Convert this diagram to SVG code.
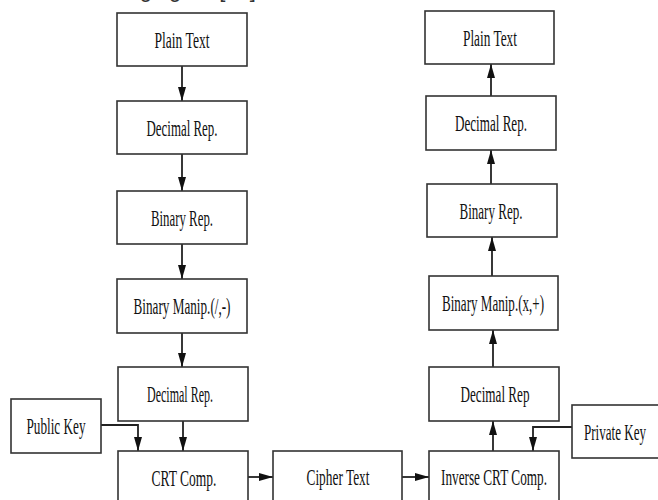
<svg xmlns="http://www.w3.org/2000/svg" width="658" height="500" viewBox="0 0 658 500">
<defs>
<style>
.box{fill:#fff;stroke:#333;stroke-width:1.6}
.t{font-family:"Liberation Serif","Times New Roman",serif;font-size:24px;fill:#111;text-anchor:middle}
.c{fill:none;stroke:#222;stroke-width:1.8}
.cap{font-family:"Liberation Sans",Arial,sans-serif;font-size:22px;fill:#333}
</style>
<marker id="ah" markerUnits="userSpaceOnUse" markerWidth="15" markerHeight="8" refX="14" refY="4" orient="auto">
<path d="M0,0 L14,4 L0,8 z" fill="#111"/>
</marker>
</defs>
<rect width="658" height="500" fill="#fff"/>
<text class="cap" x="262" y="-3" text-anchor="end">the following figure [15].</text>
<g id="connectors">
<line class="c" x1="182" y1="66" x2="182" y2="101" marker-end="url(#ah)"/>
<line class="c" x1="182" y1="154" x2="182" y2="191" marker-end="url(#ah)"/>
<line class="c" x1="182" y1="244" x2="182" y2="279" marker-end="url(#ah)"/>
<line class="c" x1="182" y1="333" x2="182" y2="367" marker-end="url(#ah)"/>
<line class="c" x1="183" y1="421" x2="183" y2="451" marker-end="url(#ah)"/>
<polyline class="c" points="101,425 138,425 138,451" marker-end="url(#ah)"/>
<line class="c" x1="248" y1="477" x2="273" y2="477" stroke-width="2.5" marker-end="url(#ah)"/>
<line class="c" x1="402" y1="477" x2="429" y2="477" stroke-width="2.5" marker-end="url(#ah)"/>
<polyline class="c" points="572,427 533,427 533,451" marker-end="url(#ah)"/>
<line class="c" x1="493" y1="451" x2="493" y2="421" marker-end="url(#ah)"/>
<line class="c" x1="493" y1="367" x2="493" y2="330" marker-end="url(#ah)"/>
<line class="c" x1="492" y1="276" x2="492" y2="237" marker-end="url(#ah)"/>
<line class="c" x1="491" y1="184" x2="491" y2="150" marker-end="url(#ah)"/>
<line class="c" x1="491" y1="96" x2="491" y2="64" marker-end="url(#ah)"/>
</g>
<g id="n1"><rect class="box" x="117" y="13" width="130" height="53"/><text class="t" x="182" y="48" textLength="55" lengthAdjust="spacingAndGlyphs">Plain Text</text></g>
<g id="n2"><rect class="box" x="117" y="101" width="130" height="53"/><text class="t" x="182" y="136" textLength="71" lengthAdjust="spacingAndGlyphs">Decimal Rep.</text></g>
<g id="n3"><rect class="box" x="117" y="191" width="130" height="53"/><text class="t" x="182" y="226" textLength="62" lengthAdjust="spacingAndGlyphs">Binary Rep.</text></g>
<g id="n4"><rect class="box" x="117" y="279" width="130" height="54"/><text class="t" x="182" y="314" textLength="97" lengthAdjust="spacingAndGlyphs">Binary Manip.(/,-)</text></g>
<g id="n5"><rect class="box" x="118" y="367" width="130" height="54"/><text class="t" x="180" y="402" textLength="66" lengthAdjust="spacingAndGlyphs">Decimal Rep.</text></g>
<g id="n6"><rect class="box" x="118" y="451" width="130" height="60"/><text class="t" x="184" y="486" textLength="65" lengthAdjust="spacingAndGlyphs">CRT Comp.</text></g>
<g id="pub"><rect class="box" x="11" y="399" width="90" height="54"/><text class="t" x="56" y="434" textLength="59" lengthAdjust="spacingAndGlyphs">Public Key</text></g>
<g id="cipher"><rect class="box" x="273" y="451" width="129" height="60"/><text class="t" x="338" y="485" textLength="63" lengthAdjust="spacingAndGlyphs">Cipher Text</text></g>
<g id="inv"><rect class="box" x="429" y="451" width="130" height="60"/><text class="t" x="494" y="485" textLength="106" lengthAdjust="spacingAndGlyphs">Inverse CRT Comp.</text></g>
<g id="priv"><rect class="box" x="572" y="405" width="95" height="53"/><text class="t" x="615" y="440" textLength="62" lengthAdjust="spacingAndGlyphs">Private Key</text></g>
<g id="m1"><rect class="box" x="425" y="11" width="129" height="53"/><text class="t" x="490" y="46" textLength="54" lengthAdjust="spacingAndGlyphs">Plain Text</text></g>
<g id="m2"><rect class="box" x="426" y="96" width="130" height="54"/><text class="t" x="491" y="131" textLength="72" lengthAdjust="spacingAndGlyphs">Decimal Rep.</text></g>
<g id="m3"><rect class="box" x="427" y="184" width="130" height="53"/><text class="t" x="491" y="219" textLength="63" lengthAdjust="spacingAndGlyphs">Binary Rep.</text></g>
<g id="m4"><rect class="box" x="429" y="276" width="129" height="54"/><text class="t" x="493" y="311" textLength="102" lengthAdjust="spacingAndGlyphs">Binary Manip.(x,+)</text></g>
<g id="m5"><rect class="box" x="429" y="367" width="130" height="54"/><text class="t" x="495" y="402" textLength="69" lengthAdjust="spacingAndGlyphs">Decimal Rep</text></g>
</svg>
